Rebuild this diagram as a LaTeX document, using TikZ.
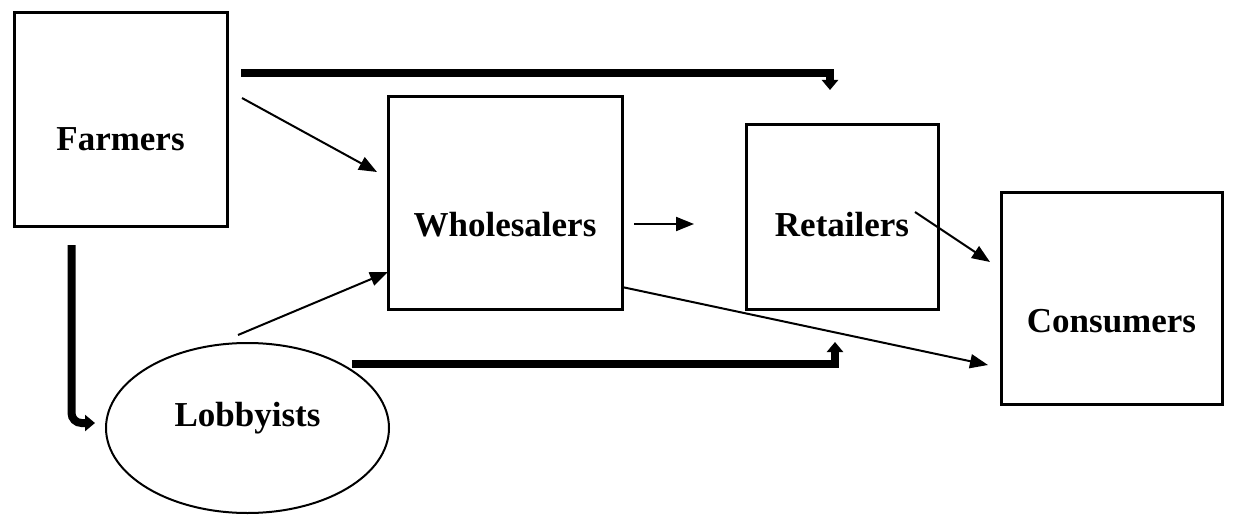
\documentclass[tikz,border=0pt]{standalone}
\usepackage{fontspec}
\setmainfont{Liberation Serif}
\usetikzlibrary{arrows.meta,calc,shapes.geometric}
\begin{document}
\begin{tikzpicture}[x=1pt,y=-1pt,
  box/.style={draw,line width=3pt,inner sep=0pt,rectangle},
  oval/.style={draw,line width=2pt,inner sep=0pt,ellipse},
  lbl/.style={font=\fontsize{35}{40}\selectfont\bfseries,inner sep=0pt},
  thin/.style={line width=2pt,-{Triangle[length=18pt,width=14pt]}},
  thick/.style={line width=8pt,-{Triangle[length=10pt,width=16pt]}}]
\useasboundingbox (0,0) rectangle (1235,519);
% nodes
\node[box,minimum width=213pt,minimum height=213pt,
  label={[lbl,name=tfarm,yshift=-20pt]center:Farmers}] (farmers) at (120.5,119.5) {};
\node[box,minimum width=234pt,minimum height=212pt,
  label={[lbl,name=twhole,yshift=-22pt]center:Wholesalers}] (whole) at (505,203) {};
\node[box,minimum width=192pt,minimum height=185pt,
  label={[lbl,name=tret,yshift=-8pt]center:Retailers}] (ret) at (842,216.5) {};
\node[box,minimum width=221pt,minimum height=212pt,
  label={[lbl,name=tcons,yshift=-23pt]center:Consumers}] (cons) at (1111.5,298) {};
\node[oval,minimum width=283pt,minimum height=170pt,
  label={[lbl,name=tlob,yshift=10pt]center:Lobbyists}] (lob) at (247.5,428) {};
% free ends
\coordinate (a1) at (241,73.5);
\coordinate (a2) at (830,90);
\coordinate (b1) at (242,98);
\coordinate (b2) at (377,172);
\coordinate (c1) at (238,335);
\coordinate (c2) at (388,272);
\coordinate (d1) at (634,224);
\coordinate (d2) at (694,224);
\coordinate (e1) at (915,212);
\coordinate (e2) at (990,262);
\coordinate (f1) at (622,287);
\coordinate (f2) at (988,365);
\coordinate (g1) at (71.5,245);
\coordinate (g2) at (95,423);
\coordinate (h1) at (352,364);
\coordinate (h2) at (835,342);
% connectors
\draw[thick] (a1) -| (a2);
\draw[thin] (b1) -- (b2);
\draw[thin] (c1) -- (c2);
\draw[thin] (d1) -- (d2);
\draw[thin] (e1) -- (e2);
\draw[thin] (f1) -- (f2);
\draw[thick,rounded corners=10pt] (g1) |- (g2);
\draw[thick] (h1) -| (h2);
\end{tikzpicture}
\end{document}
